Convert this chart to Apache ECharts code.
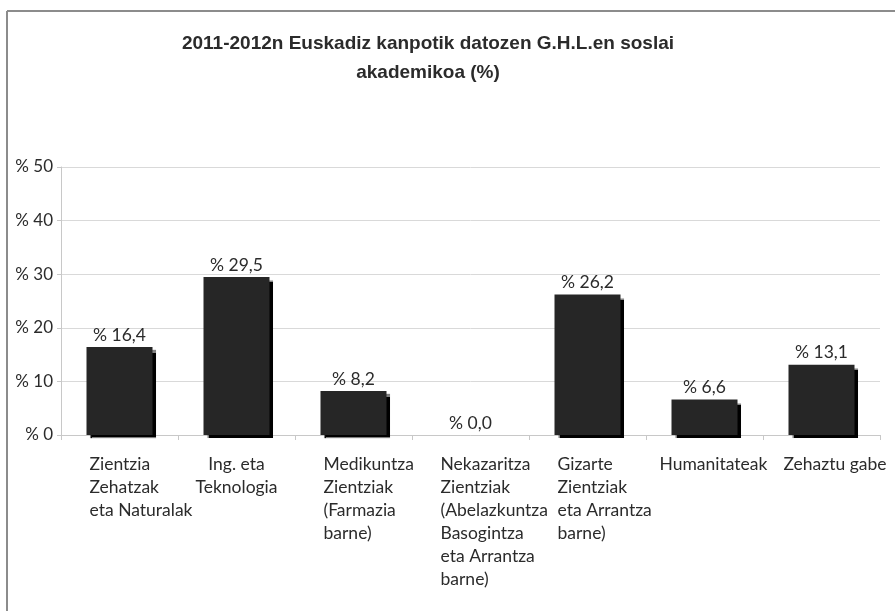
<!DOCTYPE html>
<html>
<head>
<meta charset="utf-8">
<script src="https://cdn.jsdelivr.net/npm/echarts@6/dist/echarts.min.js"></script>
<style>
  html, body { margin: 0; padding: 0; background: #fff; }
  #chart { width: 895px; height: 611px; }
</style>
</head>
<body>
<div id="chart"></div>
<script>
  var categories = [
    'Zientzia\nZehatzak\neta Naturalak',
    'Ing. eta\nTeknologia',
    'Medikuntza\nZientziak\n(Farmazia\nbarne)',
    'Nekazaritza\nZientziak\n(Abelazkuntza\nBasogintza\neta Arrantza\nbarne)',
    'Gizarte\nZientziak\neta Arrantza\nbarne)',
    'Humanitateak',
    'Zehaztu gabe'
  ];
  var percents = [16.4, 29.5, 8.2, 0.0, 26.2, 6.6, 13.1];
  var yMax = 50;
  var yStep = 10;

  var labelFont = 'Lato, "Open Sans", sans-serif';
  // text block style per category (Excel wraps some labels differently)
  var labelStyles = ['l', 'c', 'l', 'l', 'l', 'h', 'z'];

  function richStyle(w, align) {
    return { width: w, align: align, fontFamily: labelFont, fontSize: 17.5, lineHeight: 23, color: '#2b2b2b' };
  }

  var chartDom = document.getElementById('chart');
  var myChart = echarts.init(chartDom);
  var option;
  option = {
    animation: false,
    title: {
      text: '2011-2012n Euskadiz kanpotik datozen G.H.L.en soslai\nakademikoa (%)',
      left: 423,
      top: 24,
      textAlign: 'center',
      textStyle: {
        fontFamily: '"Liberation Sans", Arial, sans-serif',
        fontWeight: 'bold',
        fontSize: 19,
        lineHeight: 29,
        color: '#2b2b2b'
      }
    },
    graphic: [
      { type: 'line', shape: { x1: 7, y1: 11, x2: 895, y2: 11 }, style: { stroke: '#8c8c8c', lineWidth: 2 } },
      { type: 'line', shape: { x1: 7, y1: 11, x2: 7, y2: 611 }, style: { stroke: '#8c8c8c', lineWidth: 2 } }
    ],
    grid: {
      left: 61,
      right: 15,
      top: 167,
      bottom: 176
    },
    xAxis: {
      type: 'category',
      data: categories,
      axisLine: { lineStyle: { color: '#c8c8c8' } },
      axisTick: { show: true, length: 5, lineStyle: { color: '#c8c8c8' } },
      axisLabel: {
        interval: 0,
        margin: 18,
        fontFamily: labelFont,
        fontSize: 17.5,
        color: '#2b2b2b',
        formatter: function (v, i) {
          var style = labelStyles[i];
          return v.split('\n').map(function (s) { return '{' + style + '|' + s + '}'; }).join('\n');
        },
        rich: {
          l: richStyle(60, 'left'),
          c: richStyle(60, 'center'),
          h: richStyle(90, 'left'),
          z: richStyle(76, 'left')
        }
      }
    },
    yAxis: {
      type: 'value',
      min: 0,
      max: yMax,
      interval: yStep,
      axisLine: { show: true, lineStyle: { color: '#c8c8c8' } },
      axisTick: { show: true, length: 4, lineStyle: { color: '#c8c8c8' } },
      splitLine: { lineStyle: { color: '#d9d9d9' } },
      axisLabel: {
        margin: 8,
        fontFamily: labelFont,
        fontSize: 17,
        color: '#2b2b2b',
        formatter: function (v) { return '% ' + v; }
      }
    },
    series: [
      {
        type: 'bar',
        data: percents,
        barWidth: 66,
        itemStyle: {
          color: '#262626',
          shadowColor: '#000',
          shadowBlur: 1,
          shadowOffsetX: 3,
          shadowOffsetY: 3
        },
        label: {
          show: true,
          position: 'top',
          distance: 3,
          fontFamily: labelFont,
          fontSize: 17.5,
          color: '#2b2b2b',
          formatter: function (p) { return '% ' + p.value.toFixed(1).replace('.', ','); }
        }
      }
    ]
  };
  option && myChart.setOption(option);
</script>
</body>
</html>
